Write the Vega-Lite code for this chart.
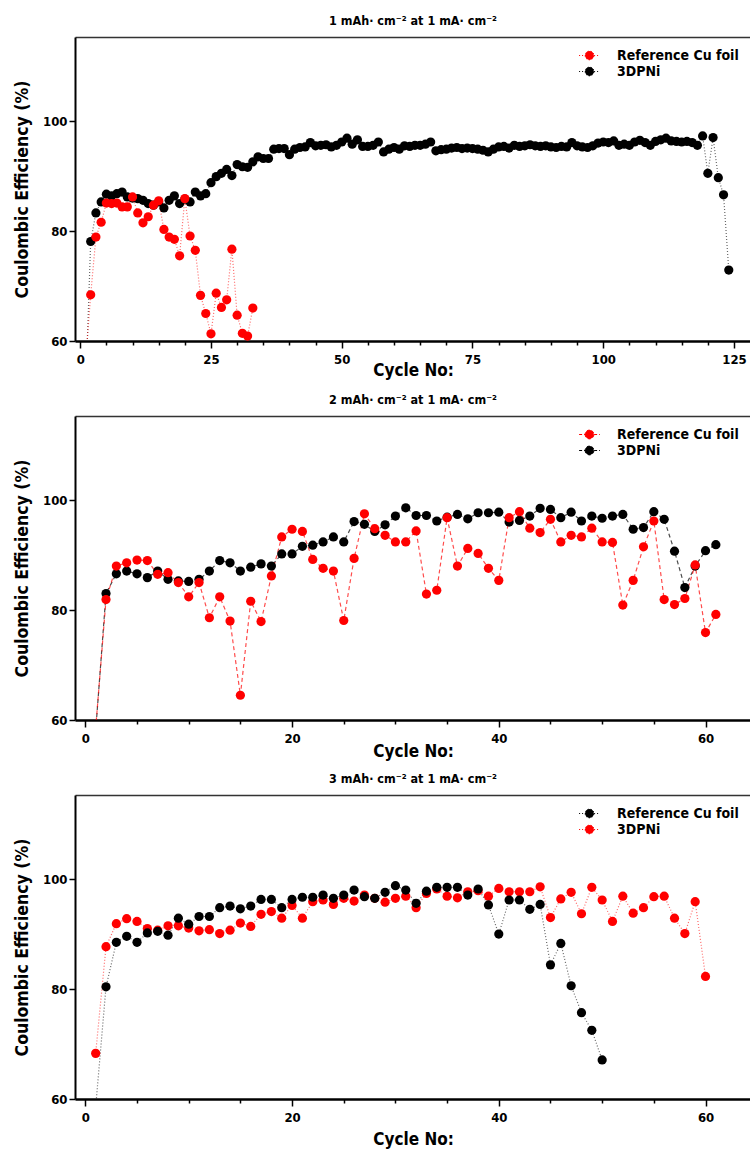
{
  "$schema": "https://vega.github.io/schema/vega-lite/v6.json",
  "padding": {"left": 13, "top": 14, "right": 0, "bottom": 3},
  "background": "white",
  "datasets": {
    "p1": [
      {"series":"3DPNi","cycle":1,"ce":50},{"series":"3DPNi","cycle":2,"ce":78.1},{"series":"3DPNi","cycle":3,"ce":83.3},{"series":"3DPNi","cycle":4,"ce":85.3},{"series":"3DPNi","cycle":5,"ce":86.7},{"series":"3DPNi","cycle":6,"ce":86.4},{"series":"3DPNi","cycle":7,"ce":86.8},{"series":"3DPNi","cycle":8,"ce":87.1},{"series":"3DPNi","cycle":9,"ce":86.2},{"series":"3DPNi","cycle":10,"ce":86.0},
      {"series":"3DPNi","cycle":11,"ce":85.9},{"series":"3DPNi","cycle":12,"ce":85.6},{"series":"3DPNi","cycle":13,"ce":85.0},{"series":"3DPNi","cycle":14,"ce":84.7},{"series":"3DPNi","cycle":15,"ce":85.3},{"series":"3DPNi","cycle":16,"ce":84.2},{"series":"3DPNi","cycle":17,"ce":85.6},{"series":"3DPNi","cycle":18,"ce":86.4},{"series":"3DPNi","cycle":19,"ce":85.0},{"series":"3DPNi","cycle":20,"ce":85.8},
      {"series":"3DPNi","cycle":21,"ce":85.3},{"series":"3DPNi","cycle":22,"ce":87.1},{"series":"3DPNi","cycle":23,"ce":86.4},{"series":"3DPNi","cycle":24,"ce":86.8},{"series":"3DPNi","cycle":25,"ce":88.8},{"series":"3DPNi","cycle":26,"ce":89.9},{"series":"3DPNi","cycle":27,"ce":90.5},{"series":"3DPNi","cycle":28,"ce":91.2},{"series":"3DPNi","cycle":29,"ce":90.1},{"series":"3DPNi","cycle":30,"ce":92.1},
      {"series":"3DPNi","cycle":31,"ce":91.7},{"series":"3DPNi","cycle":32,"ce":91.6},{"series":"3DPNi","cycle":33,"ce":92.6},{"series":"3DPNi","cycle":34,"ce":93.5},{"series":"3DPNi","cycle":35,"ce":93.2},{"series":"3DPNi","cycle":36,"ce":93.2},{"series":"3DPNi","cycle":37,"ce":94.9},{"series":"3DPNi","cycle":38,"ce":95.0},{"series":"3DPNi","cycle":39,"ce":95.0},{"series":"3DPNi","cycle":40,"ce":93.9},
      {"series":"3DPNi","cycle":41,"ce":94.9},{"series":"3DPNi","cycle":42,"ce":95.2},{"series":"3DPNi","cycle":43,"ce":95.3},{"series":"3DPNi","cycle":44,"ce":96.1},{"series":"3DPNi","cycle":45,"ce":95.5},{"series":"3DPNi","cycle":46,"ce":95.6},{"series":"3DPNi","cycle":47,"ce":95.7},{"series":"3DPNi","cycle":48,"ce":95.3},{"series":"3DPNi","cycle":49,"ce":95.6},{"series":"3DPNi","cycle":50,"ce":96.2},
      {"series":"3DPNi","cycle":51,"ce":96.9},{"series":"3DPNi","cycle":52,"ce":95.8},{"series":"3DPNi","cycle":53,"ce":96.6},{"series":"3DPNi","cycle":54,"ce":95.4},{"series":"3DPNi","cycle":55,"ce":95.4},{"series":"3DPNi","cycle":56,"ce":95.6},{"series":"3DPNi","cycle":57,"ce":96.2},{"series":"3DPNi","cycle":58,"ce":94.4},{"series":"3DPNi","cycle":59,"ce":94.9},{"series":"3DPNi","cycle":60,"ce":95.2},
      {"series":"3DPNi","cycle":61,"ce":94.9},{"series":"3DPNi","cycle":62,"ce":95.5},{"series":"3DPNi","cycle":63,"ce":95.4},{"series":"3DPNi","cycle":64,"ce":95.6},{"series":"3DPNi","cycle":65,"ce":95.6},{"series":"3DPNi","cycle":66,"ce":95.8},{"series":"3DPNi","cycle":67,"ce":96.2},{"series":"3DPNi","cycle":68,"ce":94.6},{"series":"3DPNi","cycle":69,"ce":94.8},{"series":"3DPNi","cycle":70,"ce":94.9},
      {"series":"3DPNi","cycle":71,"ce":95.1},{"series":"3DPNi","cycle":72,"ce":95.2},{"series":"3DPNi","cycle":73,"ce":95.0},{"series":"3DPNi","cycle":74,"ce":95.1},{"series":"3DPNi","cycle":75,"ce":95.0},{"series":"3DPNi","cycle":76,"ce":94.9},{"series":"3DPNi","cycle":77,"ce":94.7},{"series":"3DPNi","cycle":78,"ce":94.4},{"series":"3DPNi","cycle":79,"ce":94.9},{"series":"3DPNi","cycle":80,"ce":95.3},
      {"series":"3DPNi","cycle":81,"ce":95.4},{"series":"3DPNi","cycle":82,"ce":95.1},{"series":"3DPNi","cycle":83,"ce":95.6},{"series":"3DPNi","cycle":84,"ce":95.4},{"series":"3DPNi","cycle":85,"ce":95.5},{"series":"3DPNi","cycle":86,"ce":95.7},{"series":"3DPNi","cycle":87,"ce":95.5},{"series":"3DPNi","cycle":88,"ce":95.4},{"series":"3DPNi","cycle":89,"ce":95.5},{"series":"3DPNi","cycle":90,"ce":95.3},
      {"series":"3DPNi","cycle":91,"ce":95.2},{"series":"3DPNi","cycle":92,"ce":95.4},{"series":"3DPNi","cycle":93,"ce":95.3},{"series":"3DPNi","cycle":94,"ce":96.1},{"series":"3DPNi","cycle":95,"ce":95.5},{"series":"3DPNi","cycle":96,"ce":95.3},{"series":"3DPNi","cycle":97,"ce":95.2},{"series":"3DPNi","cycle":98,"ce":95.5},{"series":"3DPNi","cycle":99,"ce":96.0},{"series":"3DPNi","cycle":100,"ce":96.2},
      {"series":"3DPNi","cycle":101,"ce":96.1},{"series":"3DPNi","cycle":102,"ce":96.4},{"series":"3DPNi","cycle":103,"ce":95.6},{"series":"3DPNi","cycle":104,"ce":95.8},{"series":"3DPNi","cycle":105,"ce":95.6},{"series":"3DPNi","cycle":106,"ce":96.2},{"series":"3DPNi","cycle":107,"ce":96.5},{"series":"3DPNi","cycle":108,"ce":96.1},{"series":"3DPNi","cycle":109,"ce":95.6},{"series":"3DPNi","cycle":110,"ce":96.3},
      {"series":"3DPNi","cycle":111,"ce":96.6},{"series":"3DPNi","cycle":112,"ce":96.9},{"series":"3DPNi","cycle":113,"ce":96.4},{"series":"3DPNi","cycle":114,"ce":96.3},{"series":"3DPNi","cycle":115,"ce":96.2},{"series":"3DPNi","cycle":116,"ce":96.3},{"series":"3DPNi","cycle":117,"ce":96.1},{"series":"3DPNi","cycle":118,"ce":95.6},{"series":"3DPNi","cycle":119,"ce":97.3},{"series":"3DPNi","cycle":120,"ce":90.5},
      {"series":"3DPNi","cycle":121,"ce":97.0},{"series":"3DPNi","cycle":122,"ce":89.7},{"series":"3DPNi","cycle":123,"ce":86.6},{"series":"3DPNi","cycle":124,"ce":72.9},
      {"series":"Reference Cu foil","cycle":1,"ce":56},{"series":"Reference Cu foil","cycle":2,"ce":68.4},{"series":"Reference Cu foil","cycle":3,"ce":78.9},{"series":"Reference Cu foil","cycle":4,"ce":81.6},{"series":"Reference Cu foil","cycle":5,"ce":85.1},{"series":"Reference Cu foil","cycle":6,"ce":85.0},{"series":"Reference Cu foil","cycle":7,"ce":85.1},{"series":"Reference Cu foil","cycle":8,"ce":84.4},{"series":"Reference Cu foil","cycle":9,"ce":84.4},{"series":"Reference Cu foil","cycle":10,"ce":86.2},
      {"series":"Reference Cu foil","cycle":11,"ce":83.3},{"series":"Reference Cu foil","cycle":12,"ce":81.5},{"series":"Reference Cu foil","cycle":13,"ce":82.6},{"series":"Reference Cu foil","cycle":14,"ce":84.7},{"series":"Reference Cu foil","cycle":15,"ce":85.5},{"series":"Reference Cu foil","cycle":16,"ce":80.3},{"series":"Reference Cu foil","cycle":17,"ce":78.9},{"series":"Reference Cu foil","cycle":18,"ce":78.5},{"series":"Reference Cu foil","cycle":19,"ce":75.5},{"series":"Reference Cu foil","cycle":20,"ce":85.9},
      {"series":"Reference Cu foil","cycle":21,"ce":79.1},{"series":"Reference Cu foil","cycle":22,"ce":76.5},{"series":"Reference Cu foil","cycle":23,"ce":68.3},{"series":"Reference Cu foil","cycle":24,"ce":65.0},{"series":"Reference Cu foil","cycle":25,"ce":61.3},{"series":"Reference Cu foil","cycle":26,"ce":68.7},{"series":"Reference Cu foil","cycle":27,"ce":66.1},{"series":"Reference Cu foil","cycle":28,"ce":67.5},{"series":"Reference Cu foil","cycle":29,"ce":76.7},{"series":"Reference Cu foil","cycle":30,"ce":64.7},
      {"series":"Reference Cu foil","cycle":31,"ce":61.4},{"series":"Reference Cu foil","cycle":32,"ce":60.9},{"series":"Reference Cu foil","cycle":33,"ce":66.0}
    ],
    "p2": [
      {"series":"3DPNi","cycle":1,"ce":58},{"series":"3DPNi","cycle":2,"ce":83.0},{"series":"3DPNi","cycle":3,"ce":86.6},{"series":"3DPNi","cycle":4,"ce":87.1},{"series":"3DPNi","cycle":5,"ce":86.6},{"series":"3DPNi","cycle":6,"ce":85.9},{"series":"3DPNi","cycle":7,"ce":87.1},{"series":"3DPNi","cycle":8,"ce":85.6},{"series":"3DPNi","cycle":9,"ce":85.3},{"series":"3DPNi","cycle":10,"ce":85.2},
      {"series":"3DPNi","cycle":11,"ce":85.6},{"series":"3DPNi","cycle":12,"ce":87.1},{"series":"3DPNi","cycle":13,"ce":89.0},{"series":"3DPNi","cycle":14,"ce":88.6},{"series":"3DPNi","cycle":15,"ce":87.1},{"series":"3DPNi","cycle":16,"ce":87.8},{"series":"3DPNi","cycle":17,"ce":88.4},{"series":"3DPNi","cycle":18,"ce":88.0},{"series":"3DPNi","cycle":19,"ce":90.2},{"series":"3DPNi","cycle":20,"ce":90.2},
      {"series":"3DPNi","cycle":21,"ce":91.6},{"series":"3DPNi","cycle":22,"ce":91.8},{"series":"3DPNi","cycle":23,"ce":92.4},{"series":"3DPNi","cycle":24,"ce":93.3},{"series":"3DPNi","cycle":25,"ce":92.4},{"series":"3DPNi","cycle":26,"ce":96.1},{"series":"3DPNi","cycle":27,"ce":95.6},{"series":"3DPNi","cycle":28,"ce":94.3},{"series":"3DPNi","cycle":29,"ce":95.5},{"series":"3DPNi","cycle":30,"ce":97.1},
      {"series":"3DPNi","cycle":31,"ce":98.6},{"series":"3DPNi","cycle":32,"ce":97.2},{"series":"3DPNi","cycle":33,"ce":97.2},{"series":"3DPNi","cycle":34,"ce":96.2},{"series":"3DPNi","cycle":35,"ce":96.9},{"series":"3DPNi","cycle":36,"ce":97.4},{"series":"3DPNi","cycle":37,"ce":96.6},{"series":"3DPNi","cycle":38,"ce":97.7},{"series":"3DPNi","cycle":39,"ce":97.7},{"series":"3DPNi","cycle":40,"ce":97.8},
      {"series":"3DPNi","cycle":41,"ce":96.0},{"series":"3DPNi","cycle":42,"ce":96.3},{"series":"3DPNi","cycle":43,"ce":97.1},{"series":"3DPNi","cycle":44,"ce":98.5},{"series":"3DPNi","cycle":45,"ce":98.3},{"series":"3DPNi","cycle":46,"ce":96.8},{"series":"3DPNi","cycle":47,"ce":97.8},{"series":"3DPNi","cycle":48,"ce":96.2},{"series":"3DPNi","cycle":49,"ce":97.1},{"series":"3DPNi","cycle":50,"ce":96.7},
      {"series":"3DPNi","cycle":51,"ce":97.1},{"series":"3DPNi","cycle":52,"ce":97.4},{"series":"3DPNi","cycle":53,"ce":94.7},{"series":"3DPNi","cycle":54,"ce":95.0},{"series":"3DPNi","cycle":55,"ce":97.9},{"series":"3DPNi","cycle":56,"ce":96.5},{"series":"3DPNi","cycle":57,"ce":90.7},{"series":"3DPNi","cycle":58,"ce":84.1},{"series":"3DPNi","cycle":59,"ce":88.0},{"series":"3DPNi","cycle":60,"ce":90.8},
      {"series":"3DPNi","cycle":61,"ce":91.9},
      {"series":"Reference Cu foil","cycle":1,"ce":58.5},{"series":"Reference Cu foil","cycle":2,"ce":81.9},{"series":"Reference Cu foil","cycle":3,"ce":88.0},{"series":"Reference Cu foil","cycle":4,"ce":88.6},{"series":"Reference Cu foil","cycle":5,"ce":89.1},{"series":"Reference Cu foil","cycle":6,"ce":89.0},{"series":"Reference Cu foil","cycle":7,"ce":86.5},{"series":"Reference Cu foil","cycle":8,"ce":86.8},{"series":"Reference Cu foil","cycle":9,"ce":85.0},{"series":"Reference Cu foil","cycle":10,"ce":82.4},
      {"series":"Reference Cu foil","cycle":11,"ce":85.0},{"series":"Reference Cu foil","cycle":12,"ce":78.6},{"series":"Reference Cu foil","cycle":13,"ce":82.4},{"series":"Reference Cu foil","cycle":14,"ce":78.0},{"series":"Reference Cu foil","cycle":15,"ce":64.5},{"series":"Reference Cu foil","cycle":16,"ce":81.6},{"series":"Reference Cu foil","cycle":17,"ce":77.9},{"series":"Reference Cu foil","cycle":18,"ce":86.2},{"series":"Reference Cu foil","cycle":19,"ce":93.3},{"series":"Reference Cu foil","cycle":20,"ce":94.7},
      {"series":"Reference Cu foil","cycle":21,"ce":94.3},{"series":"Reference Cu foil","cycle":22,"ce":89.2},{"series":"Reference Cu foil","cycle":23,"ce":87.6},{"series":"Reference Cu foil","cycle":24,"ce":87.1},{"series":"Reference Cu foil","cycle":25,"ce":78.1},{"series":"Reference Cu foil","cycle":26,"ce":89.4},{"series":"Reference Cu foil","cycle":27,"ce":97.5},{"series":"Reference Cu foil","cycle":28,"ce":94.8},{"series":"Reference Cu foil","cycle":29,"ce":93.6},{"series":"Reference Cu foil","cycle":30,"ce":92.4},
      {"series":"Reference Cu foil","cycle":31,"ce":92.4},{"series":"Reference Cu foil","cycle":32,"ce":94.4},{"series":"Reference Cu foil","cycle":33,"ce":82.9},{"series":"Reference Cu foil","cycle":34,"ce":83.6},{"series":"Reference Cu foil","cycle":35,"ce":96.8},{"series":"Reference Cu foil","cycle":36,"ce":88.0},{"series":"Reference Cu foil","cycle":37,"ce":91.2},{"series":"Reference Cu foil","cycle":38,"ce":90.3},{"series":"Reference Cu foil","cycle":39,"ce":87.6},{"series":"Reference Cu foil","cycle":40,"ce":85.4},
      {"series":"Reference Cu foil","cycle":41,"ce":96.8},{"series":"Reference Cu foil","cycle":42,"ce":97.9},{"series":"Reference Cu foil","cycle":43,"ce":94.9},{"series":"Reference Cu foil","cycle":44,"ce":94.1},{"series":"Reference Cu foil","cycle":45,"ce":96.5},{"series":"Reference Cu foil","cycle":46,"ce":92.4},{"series":"Reference Cu foil","cycle":47,"ce":93.6},{"series":"Reference Cu foil","cycle":48,"ce":93.3},{"series":"Reference Cu foil","cycle":49,"ce":94.9},{"series":"Reference Cu foil","cycle":50,"ce":92.4},
      {"series":"Reference Cu foil","cycle":51,"ce":92.3},{"series":"Reference Cu foil","cycle":52,"ce":80.9},{"series":"Reference Cu foil","cycle":53,"ce":85.4},{"series":"Reference Cu foil","cycle":54,"ce":91.5},{"series":"Reference Cu foil","cycle":55,"ce":96.2},{"series":"Reference Cu foil","cycle":56,"ce":81.9},{"series":"Reference Cu foil","cycle":57,"ce":81.0},{"series":"Reference Cu foil","cycle":58,"ce":82.1},{"series":"Reference Cu foil","cycle":59,"ce":88.2},{"series":"Reference Cu foil","cycle":60,"ce":75.9},
      {"series":"Reference Cu foil","cycle":61,"ce":79.2}
    ],
    "p3": [
      {"series":"3DPNi","cycle":1,"ce":68.3},{"series":"3DPNi","cycle":2,"ce":87.7},{"series":"3DPNi","cycle":3,"ce":91.9},{"series":"3DPNi","cycle":4,"ce":92.8},{"series":"3DPNi","cycle":5,"ce":92.3},{"series":"3DPNi","cycle":6,"ce":91.0},{"series":"3DPNi","cycle":7,"ce":90.7},{"series":"3DPNi","cycle":8,"ce":91.5},{"series":"3DPNi","cycle":9,"ce":91.5},{"series":"3DPNi","cycle":10,"ce":91.1},
      {"series":"3DPNi","cycle":11,"ce":90.6},{"series":"3DPNi","cycle":12,"ce":90.8},{"series":"3DPNi","cycle":13,"ce":90.1},{"series":"3DPNi","cycle":14,"ce":90.7},{"series":"3DPNi","cycle":15,"ce":92.0},{"series":"3DPNi","cycle":16,"ce":91.4},{"series":"3DPNi","cycle":17,"ce":93.6},{"series":"3DPNi","cycle":18,"ce":94.1},{"series":"3DPNi","cycle":19,"ce":92.9},{"series":"3DPNi","cycle":20,"ce":95.2},
      {"series":"3DPNi","cycle":21,"ce":92.9},{"series":"3DPNi","cycle":22,"ce":95.9},{"series":"3DPNi","cycle":23,"ce":96.2},{"series":"3DPNi","cycle":24,"ce":95.4},{"series":"3DPNi","cycle":25,"ce":96.5},{"series":"3DPNi","cycle":26,"ce":96.0},{"series":"3DPNi","cycle":27,"ce":97.1},{"series":"3DPNi","cycle":28,"ce":96.5},{"series":"3DPNi","cycle":29,"ce":95.8},{"series":"3DPNi","cycle":30,"ce":96.5},
      {"series":"3DPNi","cycle":31,"ce":96.9},{"series":"3DPNi","cycle":32,"ce":94.8},{"series":"3DPNi","cycle":33,"ce":97.4},{"series":"3DPNi","cycle":34,"ce":98.2},{"series":"3DPNi","cycle":35,"ce":96.9},{"series":"3DPNi","cycle":36,"ce":96.6},{"series":"3DPNi","cycle":37,"ce":97.7},{"series":"3DPNi","cycle":38,"ce":97.9},{"series":"3DPNi","cycle":39,"ce":96.9},{"series":"3DPNi","cycle":40,"ce":98.3},
      {"series":"3DPNi","cycle":41,"ce":97.7},{"series":"3DPNi","cycle":42,"ce":97.7},{"series":"3DPNi","cycle":43,"ce":97.7},{"series":"3DPNi","cycle":44,"ce":98.6},{"series":"3DPNi","cycle":45,"ce":93.0},{"series":"3DPNi","cycle":46,"ce":96.4},{"series":"3DPNi","cycle":47,"ce":97.6},{"series":"3DPNi","cycle":48,"ce":93.7},{"series":"3DPNi","cycle":49,"ce":98.5},{"series":"3DPNi","cycle":50,"ce":96.2},
      {"series":"3DPNi","cycle":51,"ce":92.3},{"series":"3DPNi","cycle":52,"ce":96.9},{"series":"3DPNi","cycle":53,"ce":93.8},{"series":"3DPNi","cycle":54,"ce":94.8},{"series":"3DPNi","cycle":55,"ce":96.8},{"series":"3DPNi","cycle":56,"ce":96.9},{"series":"3DPNi","cycle":57,"ce":92.9},{"series":"3DPNi","cycle":58,"ce":90.1},{"series":"3DPNi","cycle":59,"ce":95.9},{"series":"3DPNi","cycle":60,"ce":82.3},
      {"series":"Reference Cu foil","cycle":1,"ce":58.5},{"series":"Reference Cu foil","cycle":2,"ce":80.4},{"series":"Reference Cu foil","cycle":3,"ce":88.5},{"series":"Reference Cu foil","cycle":4,"ce":89.6},{"series":"Reference Cu foil","cycle":5,"ce":88.5},{"series":"Reference Cu foil","cycle":6,"ce":90.2},{"series":"Reference Cu foil","cycle":7,"ce":90.5},{"series":"Reference Cu foil","cycle":8,"ce":89.8},{"series":"Reference Cu foil","cycle":9,"ce":92.9},{"series":"Reference Cu foil","cycle":10,"ce":91.8},
      {"series":"Reference Cu foil","cycle":11,"ce":93.2},{"series":"Reference Cu foil","cycle":12,"ce":93.2},{"series":"Reference Cu foil","cycle":13,"ce":94.8},{"series":"Reference Cu foil","cycle":14,"ce":95.1},{"series":"Reference Cu foil","cycle":15,"ce":94.6},{"series":"Reference Cu foil","cycle":16,"ce":95.1},{"series":"Reference Cu foil","cycle":17,"ce":96.3},{"series":"Reference Cu foil","cycle":18,"ce":96.3},{"series":"Reference Cu foil","cycle":19,"ce":94.8},{"series":"Reference Cu foil","cycle":20,"ce":96.3},
      {"series":"Reference Cu foil","cycle":21,"ce":96.7},{"series":"Reference Cu foil","cycle":22,"ce":96.7},{"series":"Reference Cu foil","cycle":23,"ce":97.1},{"series":"Reference Cu foil","cycle":24,"ce":96.5},{"series":"Reference Cu foil","cycle":25,"ce":97.1},{"series":"Reference Cu foil","cycle":26,"ce":98.0},{"series":"Reference Cu foil","cycle":27,"ce":96.8},{"series":"Reference Cu foil","cycle":28,"ce":96.5},{"series":"Reference Cu foil","cycle":29,"ce":97.6},{"series":"Reference Cu foil","cycle":30,"ce":98.8},
      {"series":"Reference Cu foil","cycle":31,"ce":98.0},{"series":"Reference Cu foil","cycle":32,"ce":95.6},{"series":"Reference Cu foil","cycle":33,"ce":97.8},{"series":"Reference Cu foil","cycle":34,"ce":98.5},{"series":"Reference Cu foil","cycle":35,"ce":98.5},{"series":"Reference Cu foil","cycle":36,"ce":98.5},{"series":"Reference Cu foil","cycle":37,"ce":97.1},{"series":"Reference Cu foil","cycle":38,"ce":98.2},{"series":"Reference Cu foil","cycle":39,"ce":95.3},{"series":"Reference Cu foil","cycle":40,"ce":90.0},
      {"series":"Reference Cu foil","cycle":41,"ce":96.2},{"series":"Reference Cu foil","cycle":42,"ce":96.2},{"series":"Reference Cu foil","cycle":43,"ce":94.5},{"series":"Reference Cu foil","cycle":44,"ce":95.4},{"series":"Reference Cu foil","cycle":45,"ce":84.4},{"series":"Reference Cu foil","cycle":46,"ce":88.3},{"series":"Reference Cu foil","cycle":47,"ce":80.6},{"series":"Reference Cu foil","cycle":48,"ce":75.7},{"series":"Reference Cu foil","cycle":49,"ce":72.5},{"series":"Reference Cu foil","cycle":50,"ce":67.1}
    ]
  },
  "spacing": 75,
  "bounds": "flush",
  "resolve": {"scale": {"color": "independent", "x": "independent", "y": "independent"}, "legend": {"color": "independent"}, "axis": {"x": "independent", "y": "independent"}},
  "vconcat": [
    {
      "width": 676, "height": 304,
      "title": {"text": "1 mAh· cm⁻² at 1 mA· cm⁻²"},
      "data": {"name": "p1"},
      "resolve": {"axis": {"x": "independent"}},
      "layer": [
        {
          "mark": {"type": "line", "strokeDash": [1, 2], "strokeWidth": 1.2, "opacity": 0.6, "clip": true},
          "encoding": {
            "x": {"field": "cycle", "type": "quantitative", "scale": {"domain": [-1, 128.25], "nice": false, "zero": false},
              "axis": {"orient": "bottom", "values": [0,5,10,15,20,25,30,35,40,45,50,55,60,65,70,75,80,85,90,95,100,105,110,115,120,125],
                "labelExpr": "datum.value % 25 === 0 ? datum.label : ''",
                "tickSize": {"condition": {"test": "datum.value % 25 === 0", "value": 7}, "value": 4},
                "title": "Cycle No:", "titleY": 29}},
            "y": {"field": "ce", "type": "quantitative", "scale": {"domain": [60, 115.3], "nice": false, "zero": false},
              "axis": {"values": [60, 80, 100], "title": "Coulombic Efficiency (%)"}},
            "color": {"field": "series", "type": "nominal", "scale": {"domain": ["Reference Cu foil", "3DPNi"], "range": ["#ff0000", "#000000"]}}
          }
        },
        {
          "mark": {"type": "point", "filled": true, "size": 85, "opacity": 1, "clip": true},
          "encoding": {
            "x": {"field": "cycle", "type": "quantitative", "scale": {"domain": [-1, 128.25], "nice": false, "zero": false},
              "axis": {"orient": "top", "labels": false, "ticks": false, "title": null, "domainColor": "#333333", "domainWidth": 1.5}},
            "y": {"field": "ce", "type": "quantitative"},
            "color": {"field": "series", "type": "nominal", "scale": {"domain": ["Reference Cu foil", "3DPNi"], "range": ["#ff0000", "#000000"]}}
          }
        }
      ]
    },
    {
      "width": 676, "height": 304,
      "title": {"text": "2 mAh· cm⁻² at 1 mA· cm⁻²"},
      "data": {"name": "p2"},
      "resolve": {"axis": {"x": "independent"}},
      "layer": [
        {
          "mark": {"type": "line", "strokeDash": [4, 3], "strokeWidth": 1.2, "opacity": 0.7, "clip": true},
          "encoding": {
            "x": {"field": "cycle", "type": "quantitative", "scale": {"domain": [-1, 64.4], "nice": false, "zero": false},
              "axis": {"orient": "bottom", "values": [0,5,10,15,20,25,30,35,40,45,50,55,60],
                "labelExpr": "datum.value % 20 === 0 ? datum.label : ''",
                "tickSize": {"condition": {"test": "datum.value % 20 === 0", "value": 7}, "value": 4},
                "title": "Cycle No:", "titleY": 31}},
            "y": {"field": "ce", "type": "quantitative", "scale": {"domain": [60, 115.3], "nice": false, "zero": false},
              "axis": {"values": [60, 80, 100], "title": "Coulombic Efficiency (%)"}},
            "color": {"field": "series", "type": "nominal", "scale": {"domain": ["Reference Cu foil", "3DPNi"], "range": ["#ff0000", "#000000"]}, "legend": {"symbolDash": [3, 2]}}
          }
        },
        {
          "mark": {"type": "point", "filled": true, "size": 85, "opacity": 1, "clip": true},
          "encoding": {
            "x": {"field": "cycle", "type": "quantitative", "scale": {"domain": [-1, 64.4], "nice": false, "zero": false},
              "axis": {"orient": "top", "labels": false, "ticks": false, "title": null, "domainColor": "#333333", "domainWidth": 1.5}},
            "y": {"field": "ce", "type": "quantitative"},
            "color": {"field": "series", "type": "nominal", "scale": {"domain": ["Reference Cu foil", "3DPNi"], "range": ["#ff0000", "#000000"]}, "legend": {"symbolDash": [3, 2]}}
          }
        }
      ]
    },
    {
      "width": 676, "height": 304,
      "title": {"text": "3 mAh· cm⁻² at 1 mA· cm⁻²"},
      "data": {"name": "p3"},
      "resolve": {"axis": {"x": "independent"}},
      "layer": [
        {
          "mark": {"type": "line", "strokeDash": [1, 2], "strokeWidth": 1.2, "opacity": 0.6, "clip": true},
          "encoding": {
            "x": {"field": "cycle", "type": "quantitative", "scale": {"domain": [-1, 64.4], "nice": false, "zero": false},
              "axis": {"orient": "bottom", "values": [0,5,10,15,20,25,30,35,40,45,50,55,60],
                "labelExpr": "datum.value % 20 === 0 ? datum.label : ''",
                "tickSize": {"condition": {"test": "datum.value % 20 === 0", "value": 7}, "value": 4},
                "title": "Cycle No:", "titleY": 40}},
            "y": {"field": "ce", "type": "quantitative", "scale": {"domain": [60, 115.3], "nice": false, "zero": false},
              "axis": {"values": [60, 80, 100], "title": "Coulombic Efficiency (%)"}},
            "color": {"field": "series", "type": "nominal", "scale": {"domain": ["Reference Cu foil", "3DPNi"], "range": ["#000000", "#ff0000"]}}
          }
        },
        {
          "mark": {"type": "point", "filled": true, "size": 85, "opacity": 1, "clip": true},
          "encoding": {
            "x": {"field": "cycle", "type": "quantitative", "scale": {"domain": [-1, 64.4], "nice": false, "zero": false},
              "axis": {"orient": "top", "labels": false, "ticks": false, "title": null, "domainColor": "#333333", "domainWidth": 1.5}},
            "y": {"field": "ce", "type": "quantitative"},
            "color": {"field": "series", "type": "nominal", "scale": {"domain": ["Reference Cu foil", "3DPNi"], "range": ["#000000", "#ff0000"]}}
          }
        }
      ]
    }
  ],
  "config": {
    "font": "DejaVu Sans Condensed, DejaVu Sans",
    "view": {"stroke": null},
    "title": {"font": "DejaVu Sans Condensed, DejaVu Sans", "fontSize": 12.5, "fontWeight": "bold", "color": "#000000", "anchor": "middle", "offset": 10},
    "axis": {"grid": false, "labelFont": "DejaVu Sans Condensed, DejaVu Sans", "labelFontSize": 13, "labelFontWeight": "bold", "labelColor": "#000000",
      "titleFont": "DejaVu Sans Condensed, DejaVu Sans", "titleFontWeight": "bold", "titleColor": "#000000",
      "domainColor": "#000000", "tickColor": "#000000", "tickWidth": 1.5, "labelOverlap": false, "labelBound": false, "labelFlush": false},
    "axisX": {"domainWidth": 2.5, "labelPadding": 5, "titleFontSize": 17, "titleBaseline": "middle"},
    "axisY": {"domainWidth": 2, "tickSize": 6, "labelPadding": 2, "titleFontSize": 17.5, "titlePadding": 11},
    "legend": {"orient": "none", "legendX": 506, "legendY": 10, "title": null, "padding": 0, "rowPadding": 0,
      "symbolType": "M-1.3,0L1.3,0M-0.55,0A0.55,0.55,0,1,0,0.55,0A0.55,0.55,0,1,0,-0.55,0Z",
      "symbolSize": 256, "symbolStrokeWidth": 1, "symbolDash": [1, 2], "symbolOpacity": 1, "labelOffset": 19,
      "labelFont": "DejaVu Sans Condensed, DejaVu Sans", "labelFontSize": 14, "labelFontWeight": "bold", "labelColor": "#000000"}
  }
}
